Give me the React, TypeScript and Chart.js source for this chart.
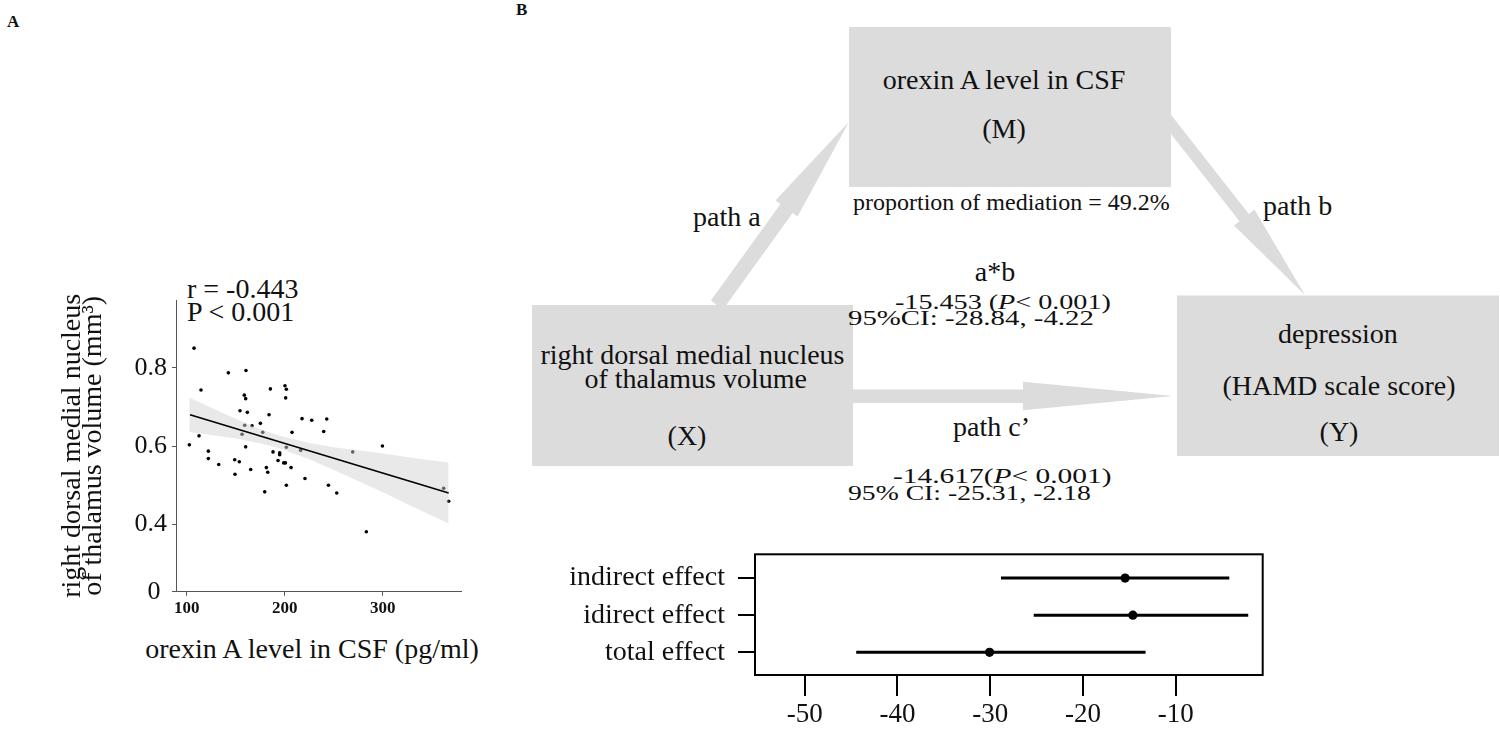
import React, { useEffect, useRef } from "react";
import { Chart, registerables } from "chart.js";

Chart.register(...registerables);

const SERIF = "'Liberation Serif', 'Times New Roman', Times, serif";
Chart.defaults.font.family = SERIF;

// ---------------- Panel A: scatter ----------------
const OREXIN_A = [
  102.7, 107.5, 114.6, 112.6, 122.1, 122.1, 132.7, 142.5, 149.0, 149.3, 153.7, 154.4, 156.5, 159.2,
  160.5, 158.8, 160.2, 161.9, 160.2, 166.7, 165.3, 175.2, 177.6, 179.6, 181.3, 182.7, 184.0, 185.4,
  188.1, 193.2, 194.9, 194.9, 199.0, 200.7, 200.3, 201.7, 201.0, 201.7, 201.7, 206.5, 207.5, 216.3,
  217.7, 220.7, 227.6, 239.8, 242.9, 244.6, 253.1, 269.4, 283.3, 299.7, 362.2, 367.3,
];
const MD_VOLUME = [
  0.603, 0.85, 0.743, 0.626, 0.587, 0.568, 0.553, 0.787, 0.565, 0.528, 0.56, 0.69, 0.63, 0.653,
  0.793, 0.73, 0.721, 0.686, 0.598, 0.652, 0.54, 0.658, 0.635, 0.483, 0.545, 0.533, 0.68, 0.746,
  0.585, 0.563, 0.583, 0.578, 0.557, 0.557, 0.754, 0.745, 0.723, 0.597, 0.5, 0.545, 0.635, 0.589,
  0.67, 0.517, 0.666, 0.637, 0.669, 0.5, 0.48, 0.585, 0.381, 0.6, 0.492, 0.459,
];
const FIT_X = [103.4, 367.3];
const FIT_Y = [0.68, 0.48];
const BAND_X = [102.7, 125, 150, 175, 195, 225, 250, 275, 300, 335, 367.3];
const BAND_UPPER = [0.724, 0.698, 0.67, 0.643, 0.626, 0.608, 0.597, 0.589, 0.581, 0.568, 0.558];
const BAND_LOWER = [0.636, 0.628, 0.619, 0.607, 0.594, 0.566, 0.539, 0.511, 0.482, 0.44, 0.402];
const X_TICKS_A = [100, 200, 300];
const Y_AXIS_MIN_A = 0.228; // bottom of the (broken) axis, labelled "0"
const Y_TICKS_A = [Y_AXIS_MIN_A, 0.4, 0.6, 0.8];
const Y_TITLE_A = ["right dorsal medial nucleus", "of thalamus volume (mm\u00B3)"];
const X_TITLE_A = "orexin A level in CSF (pg/ml)";

// ---------------- Panel B: forest plot ----------------
const EFFECT_LABELS = ["indirect effect", "idirect effect", "total effect"];
const EFFECT_ROW = [3, 2, 1];
const EFFECT_EST = [-15.453, -14.617, -30.07];
const EFFECT_LOW = [-28.84, -25.31, -44.45];
const EFFECT_HIGH = [-4.22, -2.18, -13.25];
const X_TICKS_B = [-50, -40, -30, -20, -10];

function ScatterA() {
  const ref = useRef<HTMLCanvasElement>(null);
  useEffect(() => {
    const chart = new Chart(ref.current as HTMLCanvasElement, {
      type: "scatter",
      data: {
        datasets: [
          {
            type: "scatter",
            data: OREXIN_A.map((x, i) => ({ x, y: MD_VOLUME[i] })),
            pointRadius: 1.8,
            pointBackgroundColor: "#000",
            pointBorderWidth: 0,
            order: 3,
          },
          {
            type: "line",
            data: BAND_X.map((x, i) => ({ x, y: BAND_UPPER[i] })),
            borderColor: "rgba(0,0,0,0)",
            borderWidth: 0,
            pointRadius: 0,
            fill: "+1",
            backgroundColor: "rgba(208,208,208,0.48)",
            order: 2,
          },
          {
            type: "line",
            data: BAND_X.map((x, i) => ({ x, y: BAND_LOWER[i] })),
            borderColor: "rgba(0,0,0,0)",
            borderWidth: 0,
            pointRadius: 0,
            fill: false,
            order: 2,
          },
          {
            type: "line",
            data: FIT_X.map((x, i) => ({ x, y: FIT_Y[i] })),
            borderColor: "#000",
            borderWidth: 1.6,
            pointRadius: 0,
            fill: false,
            order: 1,
          },
        ],
      },
      options: {
        responsive: false,
        animation: false,
        devicePixelRatio: 1,
        layout: { padding: { left: 0, top: 40, right: 38.3, bottom: 0 }, autoPadding: false },
        plugins: { legend: { display: false }, tooltip: { enabled: false } },
        scales: {
          x: {
            type: "linear",
            min: 89.1,
            max: 380.6,
            afterBuildTicks: (s: any) => {
              s.ticks = X_TICKS_A.map((v) => ({ value: v }));
            },
            afterFit: (s: any) => {
              s.height = 88.3;
              s.paddingLeft = 0;
              s.paddingRight = 0;
            },
            ticks: {
              color: "#111",
              padding: 3,
              font: { family: SERIF, size: 17, weight: "bold", lineHeight: 1.2 },
              callback: (v: any) => String(v),
            },
            grid: { display: true, drawOnChartArea: false, drawTicks: true, tickLength: 4, color: "#555", lineWidth: 1 },
            border: { display: true, color: "#555", width: 1 },
          },
          y: {
            type: "linear",
            min: Y_AXIS_MIN_A,
            max: 0.973,
            afterBuildTicks: (s: any) => {
              s.ticks = Y_TICKS_A.map((v) => ({ value: v }));
            },
            afterFit: (s: any) => {
              s.width = 146;
              s.paddingTop = 0;
              s.paddingBottom = 0;
            },
            ticks: {
              color: "#111",
              padding: 5,
              font: { family: SERIF, size: 26, lineHeight: 1 },
              callback: (v: any) => (v === Y_AXIS_MIN_A ? "0 " : Number(v).toFixed(1)),
            },
            grid: { display: true, drawOnChartArea: false, drawTicks: true, tickLength: 4, color: "#555", lineWidth: 1 },
            border: { display: true, color: "#555", width: 1 },
            title: {
              display: true,
              text: Y_TITLE_A,
              color: "#111",
              font: { family: SERIF, size: 28, lineHeight: 0.75 },
              padding: { top: 32.5, bottom: 0 },
            },
          },
        },
      },
    } as any);
    return () => chart.destroy();
  }, []);
  return (
    <canvas
      ref={ref}
      width={470}
      height={420}
      style={{ position: "absolute", left: 30, top: 260, width: 470, height: 420 }}
    />
  );
}

const boxPlugin = {
  id: "frameBox",
  afterDatasetsDraw(chart: any) {
    const { ctx, chartArea: a } = chart;
    ctx.save();
    ctx.strokeStyle = "#000";
    ctx.lineWidth = 2;
    ctx.strokeRect(a.left, a.top, a.right - a.left, a.bottom - a.top);
    ctx.restore();
  },
};

function ForestB() {
  const ref = useRef<HTMLCanvasElement>(null);
  useEffect(() => {
    const ciSets = EFFECT_ROW.map((row, i) => ({
      type: "line",
      data: [
        { x: EFFECT_LOW[i], y: row },
        { x: EFFECT_HIGH[i], y: row },
      ],
      borderColor: "#000",
      borderWidth: 3,
      pointRadius: 0,
      fill: false,
      order: 2,
    }));
    const chart = new Chart(ref.current as HTMLCanvasElement, {
      type: "scatter",
      data: {
        datasets: [
          ...ciSets,
          {
            type: "scatter",
            data: EFFECT_ROW.map((row, i) => ({ x: EFFECT_EST[i], y: row })),
            pointRadius: 4.6,
            pointBackgroundColor: "#000",
            pointBorderWidth: 0,
            order: 1,
          },
        ],
      },
      options: {
        responsive: false,
        animation: false,
        devicePixelRatio: 1,
        layout: { padding: { left: 0, top: 14.3, right: 27.3, bottom: 0 }, autoPadding: false },
        plugins: { legend: { display: false }, tooltip: { enabled: false } },
        scales: {
          x: {
            type: "linear",
            min: -55.36,
            max: -0.62,
            afterBuildTicks: (s: any) => {
              s.ticks = X_TICKS_B.map((v) => ({ value: v }));
            },
            afterFit: (s: any) => {
              s.height = 56;
              s.paddingLeft = 0;
              s.paddingRight = 0;
            },
            ticks: {
              color: "#111",
              padding: 5.5,
              font: { family: SERIF, size: 27, lineHeight: 1 },
              callback: (v: any) => String(v),
            },
            grid: { display: true, drawOnChartArea: false, drawTicks: true, tickLength: 21, color: "#000", lineWidth: 2 },
            border: { display: false },
          },
          y: {
            type: "linear",
            min: 0.39,
            max: 3.64,
            afterBuildTicks: (s: any) => {
              s.ticks = EFFECT_ROW.map((v) => ({ value: v }));
            },
            afterFit: (s: any) => {
              s.width = 215;
              s.paddingTop = 0;
              s.paddingBottom = 0;
            },
            ticks: {
              color: "#111",
              padding: 13,
              font: { family: SERIF, size: 28, lineHeight: 1 },
              callback: (v: any) => EFFECT_LABELS[EFFECT_ROW.indexOf(Number(v))],
            },
            grid: { display: true, drawOnChartArea: false, drawTicks: true, tickLength: 17, color: "#000", lineWidth: 2 },
            border: { display: false },
          },
        },
      },
      plugins: [boxPlugin],
    } as any);
    return () => chart.destroy();
  }, []);
  return (
    <canvas
      ref={ref}
      width={750}
      height={191}
      style={{ position: "absolute", left: 540, top: 540, width: 750, height: 191 }}
    />
  );
}

type TxtProps = {
  x: number;
  base: number;
  size: number;
  align?: "left" | "center";
  sx?: number;
  bold?: boolean;
  children: React.ReactNode;
};

function Txt({ x, base, size, align = "left", sx = 1, bold = false, children }: TxtProps) {
  const top = base - 0.8375 * size;
  let transform = align === "center" ? "translateX(-50%)" : "";
  if (sx !== 1) transform += ` scaleX(${sx})`;
  return (
    <div
      style={{
        position: "absolute",
        left: x,
        top,
        fontFamily: SERIF,
        fontSize: size,
        lineHeight: `${size}px`,
        fontWeight: bold ? "bold" : "normal",
        whiteSpace: "nowrap",
        color: "#111",
        transform: transform || undefined,
        transformOrigin: align === "center" ? "center" : "left",
      }}
    >
      {children}
    </div>
  );
}

const GRAY = "#dcdcdc";

function Diagram() {
  return (
    <>
      <svg
        width={1500}
        height={731}
        style={{ position: "absolute", left: 0, top: 0 }}
        xmlns="http://www.w3.org/2000/svg"
      >
        {/* path a */}
        <polygon
          fill={GRAY}
          points="710.9,300.6 780.4,204.1 775.4,200.5 849,121.7 797.6,216.5 792.6,212.9 723.1,309.4"
        />
        {/* path b */}
        <polygon
          fill={GRAY}
          points="1164.7,106.7 1248.9,213.9 1254.4,209.6 1305,295 1234,225.6 1239.5,221.3 1155.3,114.1"
        />
        {/* path c' */}
        <polygon
          fill={GRAY}
          points="845,389.5 1023,389.5 1023,381.7 1173.3,396 1023,410.3 1023,403 845,403"
        />
        <rect x={849} y={27} width={322} height={160} fill={GRAY} />
        <rect x={532} y={305} width={321} height={161} fill={GRAY} />
        <rect x={1177} y={295.5} width={322} height={160.5} fill={GRAY} />
      </svg>

      <Txt x={7} base={27} size={17} bold>A</Txt>
      <Txt x={516} base={15} size={17} bold>B</Txt>

      <Txt x={187} base={298} size={28}>r = -0.443</Txt>
      <Txt x={187} base={321.7} size={28}>P &lt; 0.001</Txt>
      <Txt x={312} base={658.3} size={28} align="center">{X_TITLE_A}</Txt>

      <Txt x={1004} base={89.3} size={28} align="center">orexin A level in CSF</Txt>
      <Txt x={1004} base={138.5} size={28} align="center">(M)</Txt>
      <Txt x={853} base={210} size={24}>proportion of mediation = 49.2%</Txt>

      <Txt x={693} base={226.7} size={28}>path a</Txt>
      <Txt x={1263} base={215} size={28}>path b</Txt>

      <Txt x={995} base={281.7} size={28} align="center">a*b</Txt>
      <Txt x={895} base={309.3} size={21} sx={1.339}>
        -15.453 (<i>P</i>&lt; 0.001)
      </Txt>
      <Txt x={848.3} base={325.5} size={21} sx={1.373}>95%CI: -28.84, -4.22</Txt>

      <Txt x={692.5} base={364} size={28} align="center">right dorsal medial nucleus</Txt>
      <Txt x={695.7} base={388.3} size={28} align="center">of thalamus volume</Txt>
      <Txt x={687} base={445} size={28} align="center">(X)</Txt>

      <Txt x={953} base={436.7} size={28}>path c’</Txt>
      <Txt x={893.3} base={484} size={21} sx={1.401}>
        -14.617(<i>P</i>&lt; 0.001)
      </Txt>
      <Txt x={848.3} base={501} size={21} sx={1.318}>95% CI: -25.31, -2.18</Txt>

      <Txt x={1338} base={343} size={28} align="center">depression</Txt>
      <Txt x={1339} base={395} size={28} align="center">(HAMD scale score)</Txt>
      <Txt x={1339} base={441.7} size={28} align="center">(Y)</Txt>
    </>
  );
}

export default function App() {
  return (
    <div
      style={{
        position: "absolute",
        left: 0,
        top: 0,
        width: 1500,
        height: 731,
        background: "#fff",
        overflow: "hidden",
      }}
    >
      <Diagram />
      <ScatterA />
      <ForestB />
    </div>
  );
}
